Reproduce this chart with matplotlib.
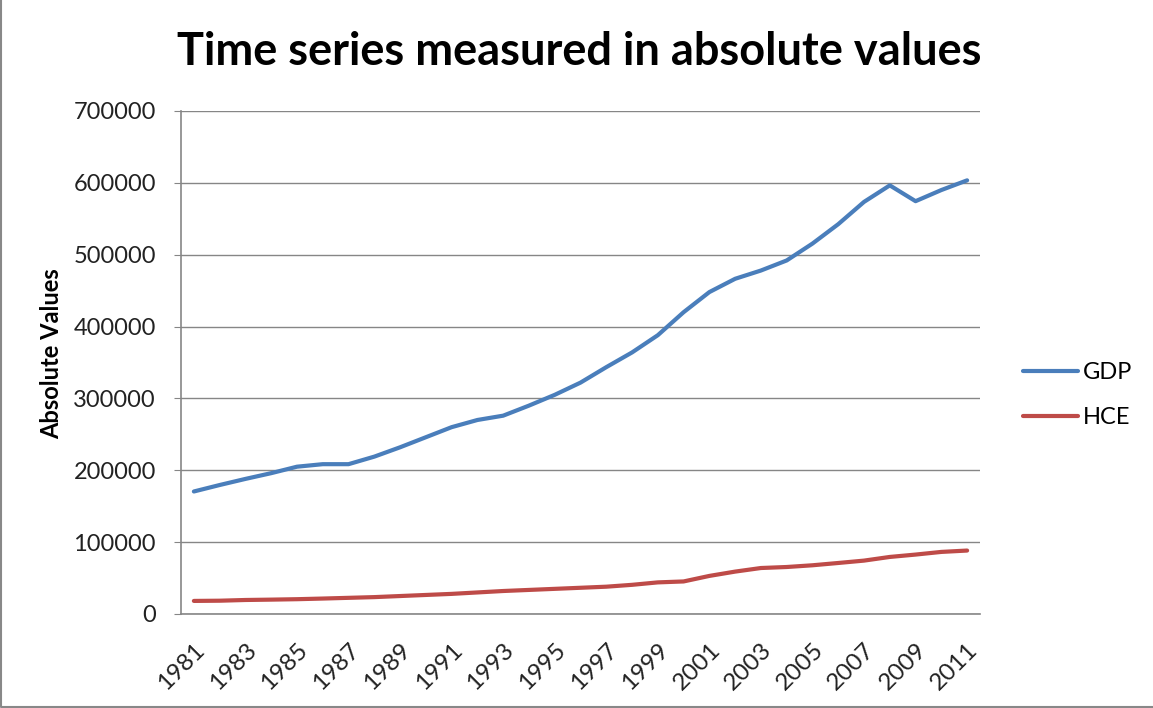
import matplotlib
matplotlib.use("Agg")
import matplotlib.pyplot as plt
from matplotlib.lines import Line2D
import numpy as np

# data
years = list(range(1981, 2012))
gdp = [170500, 179500, 188000, 196000, 205000, 208500, 208500, 219000, 232000, 246000,
       260000, 270000, 276000, 290000, 305000, 322000, 343500, 364000, 388000, 420000,
       448000, 466500, 478000, 492000, 515500, 542500, 573500, 596500, 574500, 590000,
       603500]
hce = [18200, 18500, 19500, 20000, 20600, 21500, 22500, 23500, 25000, 26500,
       28000, 30000, 32000, 33500, 35000, 36500, 38000, 40600, 44000, 45300,
       53000, 59000, 64000, 65400, 67800, 71000, 74300, 79400, 82700, 86400,
       88300]
yticks = [0, 100000, 200000, 300000, 400000, 500000, 600000, 700000]

plt.rcParams['font.family'] = ['Lato', 'DejaVu Sans']
W, H = 1153, 708

fig = plt.figure(figsize=(W/100, H/100), dpi=100)
ax = fig.add_axes([181/W, 1-614/H, (980-181)/W, (614-111)/H])

x = np.arange(len(years))
ax.plot(x, gdp, color="#4A7EBB", lw=3.0, label="GDP", solid_capstyle="round")
ax.plot(x, hce, color="#BE4B48", lw=3.0, label="HCE", solid_capstyle="round")

ax.set_xlim(-0.5, len(years) - 0.5)
ax.set_ylim(0, 700000)
ax.set_yticks(yticks)
ax.set_yticklabels([str(v) for v in yticks], fontsize=17, color="#222222")
ax.set_xticks(x[::2])
ax.set_xticklabels([str(y) for y in years[::2]], rotation=45, ha="right",
                   rotation_mode="anchor", fontsize=17.5, color="#222222")
ax.tick_params(axis="x", length=0, pad=18)
ax.tick_params(axis="y", length=5, color="#868686", pad=13)

ax.grid(axis="y", color="#868686", lw=1.0)
ax.set_axisbelow(True)
for s in ["top", "right"]:
    ax.spines[s].set_visible(False)
for s in ["left", "bottom"]:
    ax.spines[s].set_color("#868686")
    ax.spines[s].set_linewidth(1.2)

fig.text(52/W, 1-354/H, "Absolute Values", rotation=90, ha="center", va="center",
         fontsize=17, fontweight="bold")
fig.text(579/W, 1-65/H, "Time series measured in absolute values",
         ha="center", va="baseline", fontsize=32.5, fontweight="bold")

fig.legend(loc="center left", bbox_to_anchor=(1023/W, 1-395/H), frameon=False,
           fontsize=17, handlelength=2.33, handletextpad=0.2, labelspacing=1.0,
           borderpad=0, borderaxespad=0)

# chart frame: only left and bottom edges show in the reference
fig.lines.append(Line2D([0.5/W, 0.5/W, 1], [1, 1.5/H, 1.5/H], transform=fig.transFigure,
                        color="#888888", lw=1.5))

fig.savefig("out.png", dpi=100)
